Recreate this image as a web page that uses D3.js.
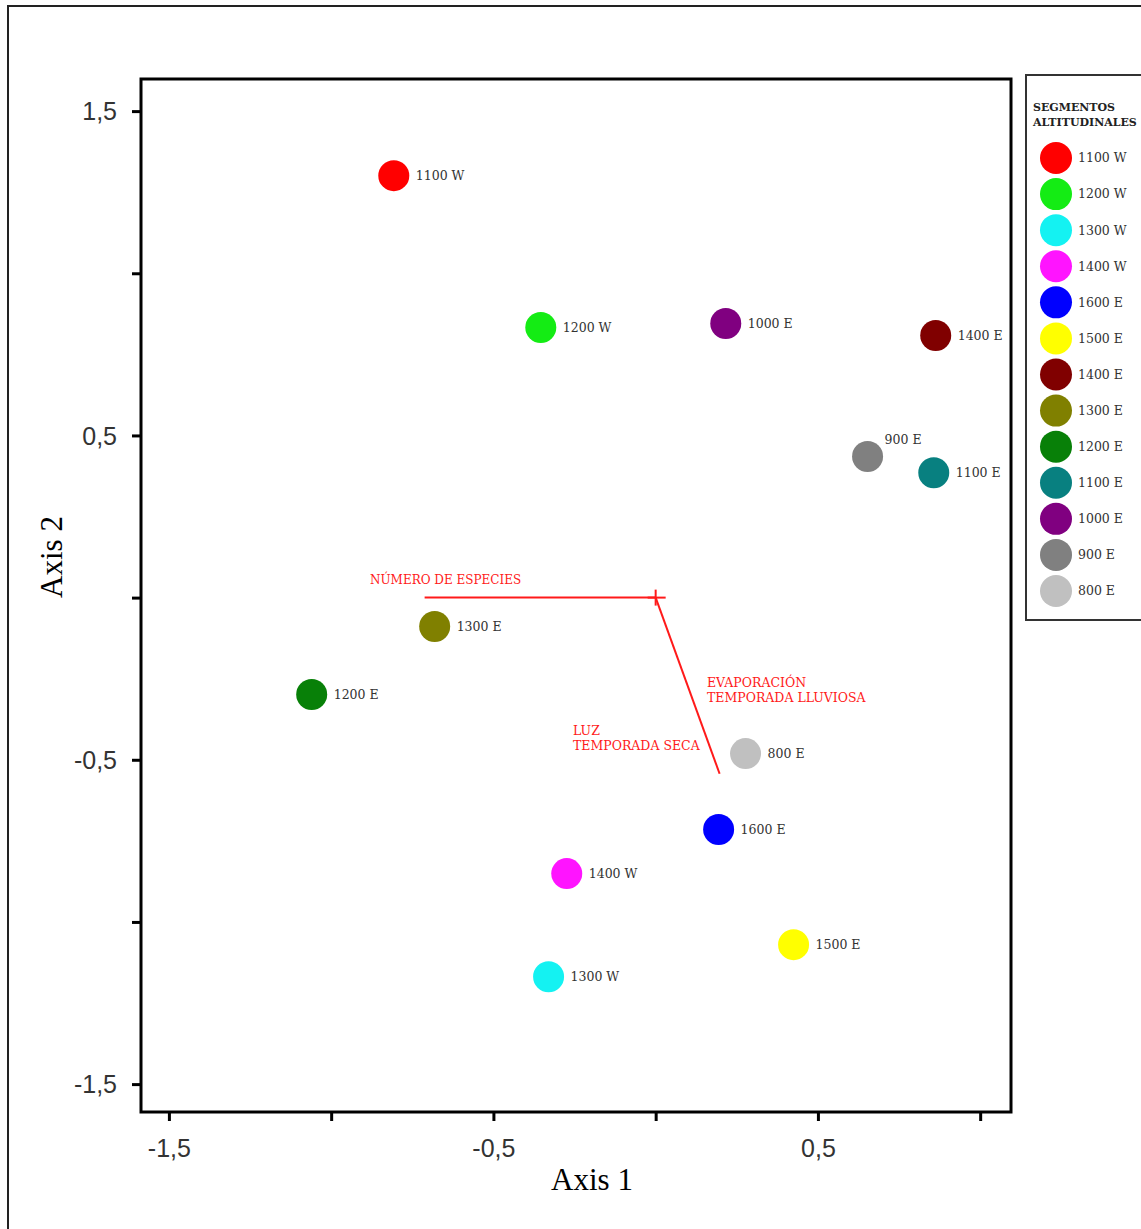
<!DOCTYPE html>
<html>
<head>
<meta charset="utf-8">
<script src="https://cdn.jsdelivr.net/npm/d3@7"></script>
<style>
  html, body { margin: 0; padding: 0; background: #fff; }
  svg { display: block; }
</style>
</head>
<body>
<svg id="chart" width="1141" height="1229"></svg>
<script>
// Ordination scores of the altitudinal segments
const segments = ["1100 W", "1200 W", "1300 W", "1400 W", "1600 E", "1500 E", "1400 E",
                  "1300 E", "1200 E", "1100 E", "1000 E", "900 E", "800 E"];
const axis1 = [-0.807, -0.354, -0.330, -0.274, 0.194, 0.425, 0.863,
               -0.681, -1.060, 0.857, 0.216, 0.653, 0.277];
const axis2 = [1.301, 0.833, -1.169, -0.851, -0.715, -1.070, 0.808,
               -0.089, -0.299, 0.385, 0.845, 0.435, -0.481];
const segmentColors = ["#ff0000", "#14ec14", "#14f2f2", "#ff14ff", "#0000ff", "#ffff00", "#800000",
                       "#808000", "#088008", "#088080", "#800080", "#808080", "#c0c0c0"];

// Environmental vectors (joint plot)
const vectorNames = ["NÚMERO DE ESPECIES", "LUZ / EVAPORACIÓN"];
const vectorX = [-0.712, 0.197];
const vectorY = [0.0, -0.543];

// Axis ticks
const xTicks = [-1.5, -1, -0.5, 0, 0.5, 1];
const xTickLabels = ["-1,5", "", "-0,5", "", "0,5", ""];
const yTicks = [1.5, 1, 0.5, 0, -0.5, -1, -1.5];
const yTickLabels = ["1,5", "", "0,5", "", "-0,5", "", "-1,5"];

const svg = d3.select("#chart");

// outer frame
svg.append("rect")
  .attr("x", 8).attr("y", 6).attr("width", 1300).attr("height", 1400)
  .attr("fill", "none").attr("stroke", "#222").attr("stroke-width", 2);

const plot = { left: 141, right: 1011, top: 79, bottom: 1112 };

const x = d3.scaleLinear().domain([-1.586, 1.095]).range([plot.left, plot.right]);
const y = d3.scaleLinear().domain([-1.586, 1.599]).range([plot.bottom, plot.top]);

// plot box
svg.append("rect")
  .attr("x", plot.left).attr("y", plot.top)
  .attr("width", plot.right - plot.left).attr("height", plot.bottom - plot.top)
  .attr("fill", "#fff").attr("stroke", "#000").attr("stroke-width", 3);

// axes
const xAxis = svg.append("g")
  .attr("transform", `translate(0,${plot.bottom})`)
  .call(d3.axisBottom(x).tickValues(xTicks)
    .tickFormat((d, i) => xTickLabels[i]).tickSize(9).tickPadding(18));
const yAxis = svg.append("g")
  .attr("transform", `translate(${plot.left},0)`)
  .call(d3.axisLeft(y).tickValues(yTicks)
    .tickFormat((d, i) => yTickLabels[i]).tickSize(9).tickPadding(15));

[xAxis, yAxis].forEach(g => {
  g.select(".domain").remove();
  g.selectAll(".tick line").attr("stroke", "#000").attr("stroke-width", 3);
  g.selectAll(".tick text")
    .attr("fill", "#333")
    .style("font-family", "Liberation Sans, Arial, sans-serif")
    .style("font-size", "25px");
});
yAxis.selectAll(".tick text").attr("dy", "0.35em");

// axis titles
svg.append("text")
  .attr("x", 592).attr("y", 1190)
  .attr("text-anchor", "middle")
  .style("font-family", "Liberation Serif, Times New Roman, serif")
  .style("font-size", "31px")
  .attr("fill", "#000")
  .text("Axis 1");
svg.append("text")
  .attr("transform", "translate(62,557) rotate(-90)")
  .attr("text-anchor", "middle")
  .style("font-family", "Liberation Serif, Times New Roman, serif")
  .style("font-size", "31px")
  .attr("fill", "#000")
  .text("Axis 2");

// vectors from the centroid
const vecColor = "#ff1a1a";
const vg = svg.append("g");
vectorNames.forEach((name, i) => {
  vg.append("line")
    .attr("x1", x(0)).attr("y1", y(0))
    .attr("x2", x(vectorX[i])).attr("y2", y(vectorY[i]))
    .attr("stroke", vecColor).attr("stroke-width", 2);
});
// centroid cross
vg.append("line")
  .attr("x1", x(0) - 8).attr("x2", x(0) + 10).attr("y1", y(0)).attr("y2", y(0))
  .attr("stroke", vecColor).attr("stroke-width", 2);
vg.append("line")
  .attr("x1", x(0)).attr("x2", x(0)).attr("y1", y(0) - 8).attr("y2", y(0) + 8)
  .attr("stroke", vecColor).attr("stroke-width", 2);

const vecFont = "DejaVu Serif, serif";
const vecLabels = [
  { lines: ["NÚMERO DE ESPECIES"], x: 370, y: 580, size: 12 },
  { lines: ["EVAPORACIÓN", "TEMPORADA LLUVIOSA"], x: 707, y: 683, size: 12.5 },
  { lines: ["LUZ", "TEMPORADA SECA"], x: 573, y: 731, size: 12.5 }
];
vecLabels.forEach(l => {
  l.lines.forEach((t, j) => {
    vg.append("text")
      .attr("x", l.x).attr("y", l.y + j * 15)
      .attr("dy", "0.35em")
      .attr("fill", vecColor)
      .style("font-family", vecFont)
      .style("font-size", l.size + "px")
      .text(t);
  });
});

// points
const pointFont = "DejaVu Serif, serif";
const pts = svg.append("g");
segments.forEach((s, i) => {
  pts.append("circle")
    .attr("cx", x(axis1[i])).attr("cy", y(axis2[i]))
    .attr("r", 15.5)
    .attr("fill", segmentColors[i]);
  const above = s === "900 E";
  pts.append("text")
    .attr("x", x(axis1[i]) + (above ? 17 : 22))
    .attr("y", y(axis2[i]) + (above ? -17 : 0))
    .attr("dy", "0.35em")
    .attr("fill", "#333")
    .style("font-family", pointFont)
    .style("font-size", "12.5px")
    .text(s);
});

// legend
const lg = svg.append("g");
lg.append("rect")
  .attr("x", 1026).attr("y", 75).attr("width", 140).attr("height", 545)
  .attr("fill", "#fff").attr("stroke", "#333").attr("stroke-width", 2);
["SEGMENTOS", "ALTITUDINALES"].forEach((t, j) => {
  lg.append("text")
    .attr("x", 1033).attr("y", 107 + j * 15)
    .attr("dy", "0.35em")
    .attr("fill", "#222")
    .style("font-family", "DejaVu Serif, serif")
    .style("font-weight", "bold")
    .style("font-size", "11px")
    .text(t);
});
const legendY = d3.scaleLinear().domain([0, segments.length - 1]).range([158, 591]);
segments.forEach((s, i) => {
  lg.append("circle")
    .attr("cx", 1056).attr("cy", legendY(i)).attr("r", 16)
    .attr("fill", segmentColors[i]);
  lg.append("text")
    .attr("x", 1078).attr("y", legendY(i))
    .attr("dy", "0.35em")
    .attr("fill", "#333")
    .style("font-family", pointFont)
    .style("font-size", "12.5px")
    .text(s);
});
</script>
</body>
</html>
